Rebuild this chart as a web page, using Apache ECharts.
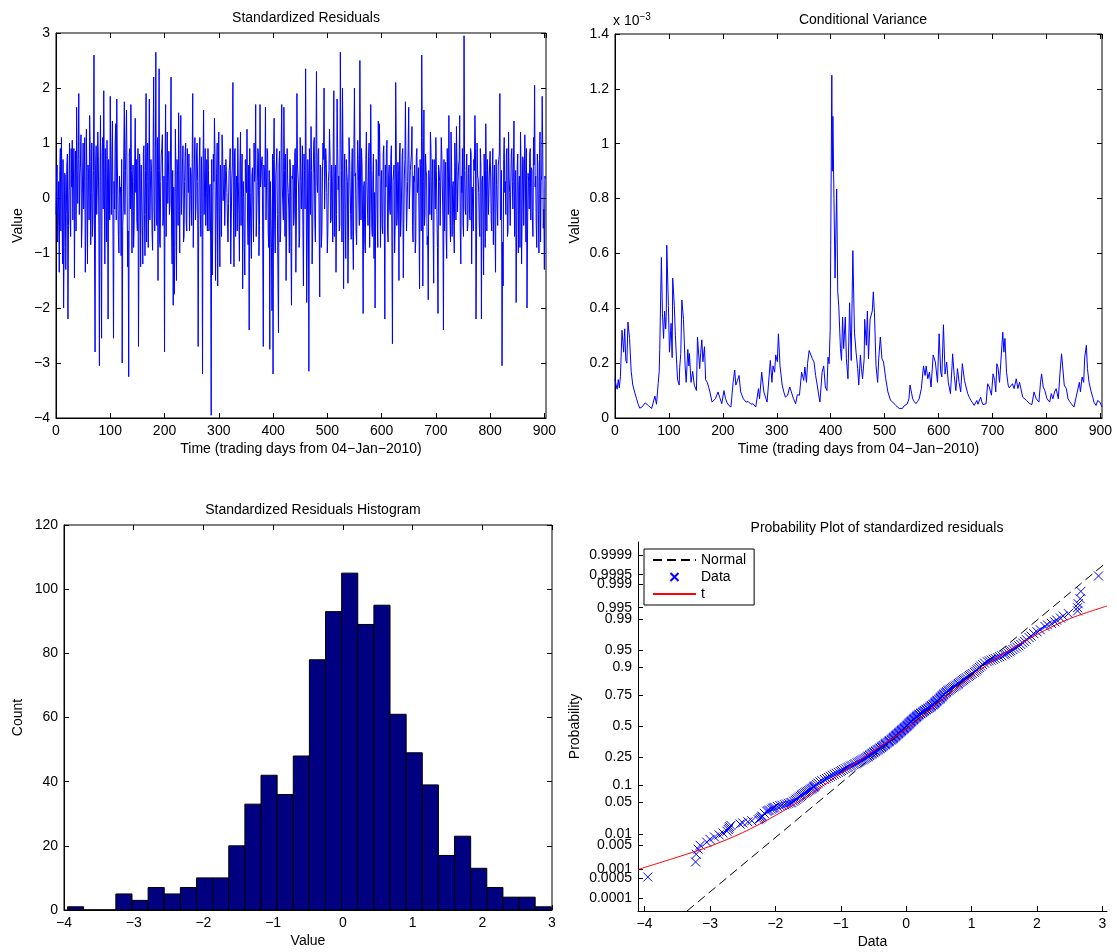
<!DOCTYPE html>
<html>
<head>
<meta charset="utf-8">
<script src="https://cdn.jsdelivr.net/npm/echarts@6/dist/echarts.min.js"></script>
<style>
html, body { margin: 0; padding: 0; background: #fff; }
#chart { width: 1117px; height: 952px; }
</style>
</head>
<body>
<div id="chart"></div>
<script>
// standardized residuals on even trading days (day = 2 * index)
var residualsEven = [
    -0.3, 0.6, -0.4, -1.35, 0.9, 1.1, -1.2, -2.0, 0.45, -1.3,
    0.6, -2.2, 0.35, -0.4, 0.9, 1.05, 0.2, -1.45, 0.85, 1.65,
    -0.1, 1.9, 0.4, 1.15, -0.45, 1.0, 0.3, -1.35, 1.25, -1.2,
    0.45, 1.5, -0.85, 1.0, -0.4, 2.6, -2.8, 0.95, 0.2, 0.75,
    -3.05, 1.5, -2.55, 1.1, 1.95, -1.2, 0.15, 1.05, -2.2, 0.4,
    1.85, -0.3, 1.4, -2.55, -0.2, 1.35, 1.8, 0.0, -1.0, 0.1,
    -1.05, -3.0, -0.2, 1.75, 0.5, 1.6, -1.25, -3.25, 0.9, 1.7,
    -1.0, 0.6, -0.5, 1.45, 0.7, -0.6, -2.7, 0.8, -1.25, 0.0,
    -1.2, 0.95, -1.05, 1.9, 0.6, -0.9, 1.8, 0.2, 0.5, -0.95,
    2.2, -0.6, 2.65, -0.5, -1.5, 2.35, -0.9, 0.8, 1.15, -0.35,
    -2.8, 1.7, 0.3, -0.1, 0.85, -0.15, 2.2, -1.2, -1.95, -1.75,
    1.25, -1.5, 0.5, 1.55, -1.0, 1.5, 0.1, 0.95, -0.7, 0.85,
    -0.45, 0.9, 0.1, -0.6, 0.55, -0.5, 1.9, 0.2, 1.1, -0.15,
    1.0, -2.7, 0.6, -0.3, 0.75, -3.2, 1.6, 0.4, -0.5, 0.7,
    0.9, -0.6, 0.25, -3.95, -1.4, 0.8, 1.45, -1.5, 0.45, -1.6,
    1.2, -1.25, 0.3, 1.15, -0.05, 0.6, -0.5, 0.5, -0.4, -0.1,
    0.6, -1.2, 0.35, 2.1, -1.25, 0.9, 0.1, -0.6, 0.3, -1.15,
    1.2, 0.4, -1.65, 0.0, -1.4, 0.2, 1.25, -0.85, -2.4, 0.1,
    -1.1, 0.55, -0.8, 0.3, 1.7, -0.25, 0.9, -1.05, 1.7, 0.4,
    0.75, -2.7, 0.5, 1.65, -0.4, 0.8, -0.9, -2.75, 0.3, -2.05,
    -3.2, 1.45, -1.0, 0.6, -0.3, -2.45, 0.85, -0.6, 1.7, 0.2,
    1.65, -0.7, -1.5, 0.9, 0.1, -1.0, 0.55, -1.95, 0.35, -0.5,
    0.8, -1.35, 1.9, 0.6, -0.9, 1.1, -0.2, 0.95, -1.6, 0.5,
    2.35, -1.9, 0.7, -3.15, 0.35, 1.3, -1.2, 0.45, 1.1, -0.8,
    2.3, 0.1, 0.9, -1.8, 0.55, -0.6, 1.0, 2.0, -0.2, 0.7,
    -1.0, 0.3, 1.25, -0.45, 0.6, -0.8, 1.95, 0.4, -1.35, 1.8,
    0.15, -0.6, 2.65, 0.5, 2.0, -1.65, 0.8, -1.1, 0.45, -1.55,
    1.1, 0.2, -0.75, 0.9, -1.3, 2.0, 0.45, -0.85, 1.05, 0.0,
    2.5, -0.4, 0.6, -2.1, 0.3, -1.0, 1.2, -0.2, 0.75, -0.9,
    1.7, -0.55, 0.4, -1.1, -2.0, 0.7, -0.3, 1.4, 1.35, -0.9,
    0.5, -0.65, 0.95, -2.2, 0.2, 1.05, -0.8, 0.6, -0.3, 0.95,
    -2.65, 0.3, -1.0, 2.1, -0.5, 0.65, -1.5, 1.0, -0.4, 0.8,
    -1.45, 0.4, 1.75, -0.6, 0.3, 1.65, -0.2, 0.5, 1.3, -0.8,
    0.3, -1.0, 0.75, 0.1, 0.55, -1.65, 0.4, 2.6, -1.6, 1.6,
    -0.3, 0.5, -0.85, -1.85, 0.3, 1.2, -0.4, 0.7, -1.55, 0.2,
    1.1, -0.3, -2.1, 0.5, -0.5, 1.1, 0.2, -2.4, -0.6, 0.65,
    -1.1, 0.4, 1.5, -0.3, 1.2, -0.7, 0.3, -1.0, 0.55, 1.3,
    -0.25, 0.6, 1.5, -1.2, 0.1, -0.45, 2.95, -0.2, 0.5, -0.6,
    0.45, -0.3, 0.9, -1.2, 0.2, 0.7, 1.5, -2.2, 1.0, 0.35,
    -0.5, 0.9, -2.2, 0.4, -1.4, 0.2, 1.35, -0.6, 0.3, -0.3,
    0.85, -0.4, 0.5, -0.85, 0.6, -1.35, 0.25, -0.5, 0.7, 1.9,
    -0.3, -3.05, -1.6, 1.1, 0.3, 0.8, -0.7, 1.2, 0.1, -0.5,
    0.9, -0.2, 1.4, 0.3, -1.9, 0.6, -1.0, 0.4, 1.2, -1.2,
    0.75, -0.5, 1.15, -0.8, -2.0, 0.45, -0.2, 0.9, 0.55, -0.4,
    1.1, 2.05, 0.4, -0.9, 0.6, -1.0, 1.2, 0.3, 1.85, -0.55, -1.3, 0.35
];
// standardized residuals on odd trading days (day = 2 * index + 1)
var residualsOdd = [
    0.2, -0.8, 0.3, 0.5, -0.6, 0.1, 0.7, -0.9, 0.4, -0.3,
    0.8, -0.5, 1.0, -0.7, 0.2, -0.4, 0.9, 0.3, -0.6, 0.5,
    0.7, -0.3, 0.6, -0.9, 0.4, -0.2, 1.1, -0.5, 0.3, 0.6,
    -0.4, 0.9, 0.1, -0.7, 0.5, -1.0, 0.6, -0.3, 1.2, -0.5,
    0.3, -0.6, 0.8, -0.2, 0.4, 0.9, -0.8, 0.2, 0.7, -0.4,
    0.5, 0.8, -0.6, 0.3, 1.0, -0.4, 0.6, -0.7, 0.4, 0.2,
    0.7, -0.5, 0.9, -0.3, 1.1, 0.2, -0.6, 0.8, -0.2, 0.5,
    0.3, -0.9, 0.6, 0.1, -0.4, 0.9, -0.7, 0.4, 0.6, -0.5,
    0.8, -0.3, 0.5, -0.8, 1.0, 0.3, -0.4, 0.7, -0.6, 0.9,
    -0.2, 0.6, -0.4, 1.1, 0.5, -0.8, 0.3, 0.9, -0.5, 0.4,
    0.6, -0.7, 1.2, 0.4, -0.3, 0.8, -0.6, 0.5, 0.2, -0.9,
    0.4, 0.7, -0.5, 0.2, 0.9, -0.3, 0.6, -0.8, 0.3, 1.0,
    -0.6, 0.5, 0.8, -0.2, 0.4, 0.7, -0.9, 0.6, -0.4, 0.8,
    0.3, -0.5, 1.1, -0.7, 0.2, 0.6, -0.3, 0.9, 0.1, -0.6,
    0.5, 0.2, -0.8, 0.7, -0.4, 0.3, 0.8, -0.5, 1.0, 0.4,
    -0.3, 0.6, -0.7, 0.9, 0.2, -0.5, 0.7, 0.1, -0.8, 0.5,
    0.9, -0.4, 0.6, -0.2, 0.8, -0.7, 0.4, 1.1, -0.3, 0.6,
    -0.5, 0.8, 0.3, -0.9, 0.7, 0.1, -0.4, 0.6, 0.9, -0.6,
    0.4, -0.2, 1.0, 0.5, -0.7, 0.3, 0.8, -0.5, 0.2, 0.7,
    -0.8, 0.6, 0.2, -0.4, 0.9, -0.6, 0.5, 0.3, -0.9, 0.8,
    0.7, -0.5, 0.4, 0.9, -0.3, 0.6, -0.8, 1.0, 0.2, -0.4,
    0.5, 0.8, -0.6, 0.3, -0.2, 0.7, -0.9, 0.4, 0.6, -0.3,
    0.9, -0.4, 0.6, 0.2, -0.7, 1.1, 0.3, -0.5, 0.8, -0.2,
    0.6, -0.8, 0.4, 0.9, -0.3, 0.5, -0.6, 1.0, -0.4, 0.7,
    0.3, 0.8, -0.5, 0.6, -0.9, 0.4, 0.7, -0.2, 0.9, 0.1,
    -0.6, 0.5, 0.8, -0.4, 0.3, 1.0, -0.7, 0.6, -0.3, 0.9,
    0.4, -0.5, 1.2, -0.8, 0.6, 0.2, -0.4, 0.7, 0.3, -0.6,
    0.8, -0.3, 0.5, -0.7, 0.9, 0.4, -0.6, 0.3, 0.7, -0.5,
    0.6, 0.9, -0.4, 0.2, -0.8, 0.7, 0.3, -0.5, 1.0, -0.2,
    0.5, -0.7, 0.8, 0.1, -0.4, 0.6, -0.9, 0.4, 0.7, 0.2,
    -0.5, 0.8, -0.3, 0.6, 0.9, -0.6, 0.4, -0.2, 0.7, -0.8,
    0.3, 0.6, -0.5, 1.0, -0.3, 0.5, 0.8, -0.7, 0.2, 0.9,
    -0.4, 0.7, 0.3, -0.6, 0.9, -0.2, 0.5, 0.8, -0.5, 0.4,
    0.6, -0.8, 0.9, 0.2, -0.4, 0.7, -0.6, 1.1, 0.3, -0.5,
    0.8, 0.4, -0.7, 0.5, -0.3, 0.9, 0.1, -0.6, 0.7, -0.2,
    0.5, -0.9, 0.6, 0.3, -0.5, 0.8, -0.4, 0.7, 0.2, -0.7,
    0.9, -0.3, 0.4, -0.8, 0.6, 0.2, -0.5, 1.0, -0.4, 0.5,
    0.3, 0.7, -0.6, 0.4, 0.9, -0.7, 0.5, -0.3, 0.8, -0.5,
    0.6, -0.4, 0.8, 0.2, -0.6, 0.5, 0.9, -0.8, 0.4, 0.1,
    -0.7, 0.6, 0.3, -0.4, 0.8, -0.9, 0.5, 0.7, -0.3, 0.6,
    0.4, -0.6, 0.9, 0.3, -0.5, 0.7, -0.2, 0.6, 0.8, -0.4,
    0.5, -0.8, 0.7, 0.1, -0.3, 0.9, -0.6, 0.4, -0.5, 0.8,
    0.3, 0.6, -0.7, 0.5, -0.4, 0.8, 0.2, -0.9, 0.6, -0.3,
    0.7, -0.5, 0.4, 0.9, -0.6, 0.3, 0.8, -0.4, 0.5, -0.7,
    0.6, 0.2, -0.5, 0.8, -0.3, 0.7, -0.8, 0.4, 0.9, -0.2,
    0.4
];

// conditional variance [day, value in units of 1e-3]
var condVar = [
    [0,0.14],[2,0.12],[4,0.105],[6,0.14],[8,0.11],[10,0.15],[13,0.32],[16,0.24],[18,0.325],[20,0.21],
    [22,0.2],[24,0.35],[27,0.29],[30,0.17],[33,0.12],[35,0.125],[37,0.09],[40,0.07],[43,0.05],[46,0.036],
    [50,0.04],[53,0.046],[56,0.055],[59,0.05],[62,0.045],[65,0.04],[68,0.035],[71,0.028],[74,0.08],[77,0.05],
    [80,0.125],[82,0.17],[83,0.25],[86,0.585],[88,0.38],[90,0.29],[92,0.39],[94,0.325],[95,0.37],[96,0.63],
    [99,0.41],[101,0.24],[104,0.345],[106,0.22],[107,0.51],[110,0.41],[112,0.3],[114,0.215],[116,0.14],[119,0.12],
    [120,0.185],[121,0.18],[122,0.235],[124,0.43],[127,0.36],[130,0.19],[132,0.13],[135,0.25],[137,0.19],[138,0.235],
    [141,0.13],[144,0.17],[147,0.12],[151,0.1],[153,0.295],[155,0.29],[157,0.18],[159,0.24],[161,0.285],[163,0.205],
    [166,0.26],[168,0.14],[171,0.13],[174,0.11],[176,0.095],[180,0.058],[183,0.065],[186,0.07],[189,0.075],[191,0.095],
    [194,0.076],[198,0.052],[202,0.1],[205,0.07],[208,0.055],[211,0.046],[215,0.04],[219,0.13],[222,0.175],[224,0.12],
    [227,0.137],[230,0.155],[233,0.095],[238,0.07],[243,0.058],[247,0.06],[252,0.05],[256,0.052],[261,0.04],[264,0.034],
    [266,0.107],[268,0.07],[272,0.167],[276,0.095],[280,0.07],[282,0.058],[285,0.052],[288,0.21],[291,0.13],[293,0.19],
    [296,0.167],[298,0.23],[301,0.205],[303,0.307],[306,0.19],[310,0.12],[313,0.095],[316,0.076],[320,0.083],[324,0.113],
    [327,0.095],[331,0.07],[335,0.052],[338,0.085],[342,0.083],[346,0.167],[350,0.137],[352,0.186],[355,0.13],[357,0.198],
    [360,0.246],[363,0.253],[366,0.216],[369,0.204],[372,0.155],[375,0.12],[378,0.08],[380,0.058],[384,0.167],[387,0.19],
    [390,0.113],[393,0.1],[395,0.222],[397,0.198],[399,0.32],[400,0.63],[402,1.25],[403,0.9],[404,1.1],[406,0.8],
    [408,0.51],[411,0.835],[413,0.46],[415,0.405],[418,0.253],[420,0.21],[422,0.368],[424,0.253],[427,0.368],[429,0.216],
    [432,0.143],[435,0.42],[438,0.21],[441,0.61],[444,0.313],[447,0.24],[450,0.18],[452,0.12],[455,0.23],[457,0.18],
    [459,0.143],[462,0.216],[463,0.36],[466,0.265],[468,0.39],[470,0.216],[473,0.36],[477,0.39],[479,0.46],[481,0.386],
    [484,0.19],[487,0.13],[489,0.216],[492,0.295],[495,0.216],[498,0.204],[502,0.143],[506,0.095],[511,0.064],[515,0.058],
    [518,0.052],[521,0.045],[524,0.04],[527,0.035],[530,0.028],[533,0.035],[536,0.044],[539,0.05],[542,0.052],[545,0.07],
    [547,0.12],[550,0.09],[552,0.07],[555,0.06],[558,0.052],[561,0.06],[564,0.07],[568,0.107],[572,0.19],[575,0.155],
    [577,0.19],[580,0.143],[583,0.167],[586,0.113],[590,0.23],[594,0.204],[598,0.13],[601,0.307],[604,0.167],[606,0.15],
    [609,0.34],[612,0.16],[615,0.204],[618,0.13],[622,0.089],[625,0.19],[626,0.234],[629,0.155],[632,0.1],[635,0.18],
    [638,0.13],[641,0.095],[644,0.198],[648,0.137],[651,0.143],[654,0.089],[657,0.075],[660,0.064],[663,0.055],[666,0.046],
    [669,0.05],[671,0.064],[673,0.05],[675,0.052],[678,0.076],[680,0.06],[682,0.049],[685,0.05],[688,0.052],[691,0.125],
    [694,0.113],[698,0.083],[701,0.161],[704,0.137],[706,0.095],[708,0.198],[710,0.186],[713,0.13],[716,0.125],[719,0.313],
    [721,0.24],[723,0.29],[726,0.167],[729,0.12],[731,0.11],[734,0.107],[737,0.125],[740,0.107],[744,0.143],[747,0.107],
    [750,0.13],[753,0.137],[756,0.076],[759,0.07],[763,0.064],[766,0.058],[769,0.052],[773,0.049],[777,0.095],[781,0.07],
    [786,0.058],[789,0.13],[791,0.161],[794,0.113],[797,0.1],[801,0.07],[806,0.058],[809,0.089],[812,0.07],[815,0.095],
    [818,0.107],[822,0.07],[825,0.161],[828,0.234],[830,0.19],[833,0.12],[837,0.107],[840,0.07],[843,0.06],[846,0.052],
    [851,0.04],[855,0.076],[858,0.083],[861,0.13],[863,0.095],[866,0.149],[869,0.13],[871,0.222],[874,0.265],[876,0.18],
    [879,0.13],[883,0.095],[886,0.075],[888,0.058],[892,0.046],[895,0.064],[899,0.058],[903,0.04]
];

// histogram: 30 equal bins between histStart and histEnd
var histCounts = [1, 0, 0, 5, 3, 7, 5, 7, 10, 10, 20, 33, 42, 36, 48, 78, 93, 105, 89, 95, 61, 49, 39, 17, 23, 13, 7, 4, 4, 1];
var histStart = -3.95;
var histEnd = 2.99;

// probability plot points [data value, probability]: tails and main run
var qqData = [
    [-3.95,0.00055],[-3.22,0.00166],[-3.21,0.0028],[-3.18,0.0039],[-3.15,0.005],[-3.05,0.0061],[-3.0,0.0072],[-2.93,0.0083],
    [-2.86,0.0094],[-2.8,0.0105],[-2.74,0.0116],[-2.72,0.0127],[-2.71,0.0138],[-2.7,0.0149],[-2.68,0.016],[-2.54,0.0172],
    [-2.5,0.0183],[-2.42,0.0194],[-2.36,0.0205],[-2.26,0.0216],[-2.24,0.0227],[-2.22,0.0238],[-2.21,0.0249],[-2.2,0.026],
    [-2.17,0.03],[-2.13,0.033],[-2.09,0.035],[-2.04,0.038],[-2.01,0.04],[-1.93,0.043],[-1.86,0.045],[-1.8,0.048],
    [-1.75,0.05],[-1.7,0.055],[-1.66,0.06],[-1.62,0.065],[-1.59,0.07],[-1.55,0.075],[-1.51,0.08],[-1.47,0.085],
    [-1.44,0.09],[-1.41,0.095],[-1.39,0.1],[-1.35,0.11],[-1.29,0.12],[-1.22,0.13],[-1.16,0.14],[-1.1,0.15],
    [-1.04,0.16],[-0.99,0.17],[-0.93,0.18],[-0.88,0.19],[-0.83,0.2],[-0.78,0.21],[-0.73,0.22],[-0.69,0.23],
    [-0.65,0.24],[-0.61,0.25],[-0.58,0.26],[-0.55,0.27],[-0.52,0.28],[-0.49,0.29],[-0.46,0.3],[-0.43,0.31],
    [-0.4,0.32],[-0.37,0.33],[-0.35,0.34],[-0.32,0.35],[-0.3,0.36],[-0.27,0.37],[-0.25,0.38],[-0.22,0.39],
    [-0.2,0.4],[-0.18,0.41],[-0.16,0.42],[-0.14,0.43],[-0.12,0.44],[-0.1,0.45],[-0.08,0.46],[-0.06,0.47],
    [-0.04,0.48],[-0.02,0.49],[0.0,0.5],[0.02,0.51],[0.04,0.52],[0.05,0.53],[0.07,0.54],[0.09,0.55],
    [0.11,0.56],[0.13,0.57],[0.15,0.58],[0.17,0.59],[0.19,0.6],[0.22,0.61],[0.25,0.62],[0.27,0.63],
    [0.3,0.64],[0.33,0.65],[0.36,0.66],[0.38,0.67],[0.41,0.68],[0.43,0.69],[0.45,0.7],[0.47,0.71],
    [0.5,0.72],[0.52,0.73],[0.54,0.74],[0.56,0.75],[0.58,0.76],[0.61,0.77],[0.64,0.78],[0.67,0.79],
    [0.71,0.8],[0.75,0.81],[0.79,0.82],[0.82,0.83],[0.86,0.84],[0.9,0.85],[0.95,0.86],[0.99,0.87],
    [1.04,0.88],[1.08,0.89],[1.12,0.9],[1.17,0.91],[1.24,0.92],[1.3,0.925],[1.36,0.93],[1.43,0.935],
    [1.5,0.94],[1.55,0.945],[1.6,0.95],[1.66,0.955],[1.72,0.96],[1.78,0.965],[1.84,0.97],[1.88,0.973],
    [1.91,0.975],[1.95,0.978],[2.0,0.98],[2.05,0.982],[2.12,0.985],[2.16,0.9862],[2.22,0.9873],[2.27,0.9884],
    [2.3,0.9895],[2.36,0.9906],[2.4,0.9917],[2.48,0.9928],[2.62,0.9939],[2.62,0.995],[2.63,0.9961],[2.66,0.9972],
    [2.67,0.9983],[2.94,0.99945]
];
// probability plot points [data value, probability]: the dense middle band
var qqDense = [
    [-2.11,0.034],[-2.06,0.0365],[-2.03,0.039],[-1.97,0.0415],[-1.9,0.044],[-1.83,0.0465],[-1.77,0.049],[-1.72,0.0525],
    [-1.68,0.0575],[-1.64,0.0625],[-1.6,0.0675],[-1.57,0.0725],[-1.53,0.0775],[-1.49,0.0825],[-1.45,0.0875],[-1.42,0.0925],
    [-1.4,0.0975],[-1.37,0.105],[-1.32,0.115],[-1.25,0.125],[-1.19,0.135],[-1.13,0.145],[-1.07,0.155],[-1.01,0.165],
    [-0.96,0.175],[-0.9,0.185],[-0.85,0.195],[-0.8,0.205],[-0.75,0.215],[-0.71,0.225],[-0.67,0.235],[-0.63,0.245],
    [-0.59,0.255],[-0.56,0.265],[-0.53,0.275],[-0.5,0.285],[-0.47,0.295],[-0.44,0.305],[-0.41,0.315],[-0.38,0.325],
    [-0.36,0.335],[-0.33,0.345],[-0.31,0.355],[-0.28,0.365],[-0.26,0.375],[-0.23,0.385],[-0.21,0.395],[-0.19,0.405],
    [-0.17,0.415],[-0.15,0.425],[-0.13,0.435],[-0.11,0.445],[-0.09,0.455],[-0.07,0.465],[-0.05,0.475],[-0.03,0.485],
    [-0.01,0.495],[0.01,0.505],[0.03,0.515],[0.045,0.525],[0.06,0.535],[0.08,0.545],[0.1,0.555],[0.12,0.565],
    [0.14,0.575],[0.16,0.585],[0.18,0.595],[0.2,0.605],[0.23,0.615],[0.26,0.625],[0.28,0.635],[0.31,0.645],
    [0.34,0.655],[0.37,0.665],[0.39,0.675],[0.42,0.685],[0.44,0.695],[0.46,0.705],[0.48,0.715],[0.51,0.725],
    [0.53,0.735],[0.55,0.745],[0.57,0.755],[0.6,0.765],[0.62,0.775],[0.65,0.785],[0.69,0.795],[0.73,0.805],
    [0.77,0.815],[0.8,0.825],[0.84,0.835],[0.88,0.845],[0.92,0.855],[0.97,0.865],[1.01,0.875],[1.06,0.885],
    [1.1,0.895],[1.14,0.905],[1.2,0.915],[1.27,0.9225],[1.33,0.9275],[1.4,0.9325],[1.46,0.9375],[1.52,0.9425],
    [1.58,0.9475],[1.63,0.9525],[1.69,0.9575],[1.75,0.9625],[1.81,0.9675]
];
var normalLine = [[-3.35, 0.0000317], [3.07, 0.99982]];
var tLine = [
    [-4.1,0.00097],[-3.5,0.0023],[-3.0,0.0047],[-2.5,0.0107],[-2.0,0.0268],[-1.5,0.0668],[-1.0,0.154],[-0.5,0.3],
    [0,0.476],[0.5,0.7],[1.0,0.862],[1.5,0.944],[2.0,0.977],[2.5,0.9903],[3.07,0.9955]
];
var probTicks = [0.0001, 0.0005, 0.001, 0.005, 0.01, 0.05, 0.1, 0.25, 0.5, 0.75, 0.9, 0.95, 0.99, 0.995, 0.999, 0.9995, 0.9999];
var dataTicks = [-4, -3, -2, -1, 0, 1, 2, 3];

// inverse normal cdf, used for the probability scale
function norminv(p) {
    var a = [-39.69683028665376, 220.9460984245205, -275.9285104469687, 138.3577518672690, -30.66479806614716, 2.506628277459239];
    var b = [-54.47609879822406, 161.5858368580409, -155.6989798598866, 66.80131188771972, -13.28068155288572];
    var c = [-0.007784894002430293, -0.3223964580411365, -2.400758277161838, -2.549732539343734, 4.374664141464968, 2.938163982698783];
    var d = [0.007784695709041462, 0.3224671290700398, 2.445134137142996, 3.754408661907416];
    var q, r;
    if (p < 0.02425) {
        q = Math.sqrt(-2 * Math.log(p));
        return (((((c[0]*q+c[1])*q+c[2])*q+c[3])*q+c[4])*q+c[5]) / ((((d[0]*q+d[1])*q+d[2])*q+d[3])*q+1);
    }
    if (p > 1 - 0.02425) {
        q = Math.sqrt(-2 * Math.log(1 - p));
        return -(((((c[0]*q+c[1])*q+c[2])*q+c[3])*q+c[4])*q+c[5]) / ((((d[0]*q+d[1])*q+d[2])*q+d[3])*q+1);
    }
    q = p - 0.5; r = q * q;
    return (((((a[0]*r+a[1])*r+a[2])*r+a[3])*r+a[4])*r+a[5])*q / (((((b[0]*r+b[1])*r+b[2])*r+b[3])*r+b[4])*r+1);
}
function toProbScale(pts) {
    return pts.map(function (d) { return [d[0], norminv(d[1])]; });
}

var font = '"Liberation Sans", Arial, Helvetica, sans-serif';
var black = '#000';
function minus(v) { return String(v).replace('-', '\u2212'); }

function axis(o) {
    return {
        type: 'value',
        gridIndex: o.grid,
        position: o.pos,
        min: o.min,
        max: o.max,
        interval: o.interval,
        axisLine: { show: o.line !== false, onZero: false, lineStyle: { color: black, width: 1 } },
        axisTick: { show: true, inside: true, length: 5, lineStyle: { color: black }, customValues: o.ticks },
        axisLabel: { show: o.labels !== false, color: black, fontSize: 14, fontFamily: font, margin: 6,
                     formatter: o.formatter || minus, customValues: o.ticks },
        splitLine: { show: false },
        name: o.name || '',
        nameLocation: 'middle',
        nameGap: o.gap || 0,
        nameTextStyle: { color: black, fontSize: 14, fontFamily: font }
    };
}

var residualPoints = [];
residualsEven.forEach(function (v, i) {
    residualPoints.push([2 * i, v]);
    if (i < residualsOdd.length) residualPoints.push([2 * i + 1, residualsOdd[i]]);
});
var binWidth = (histEnd - histStart) / histCounts.length;
var histData = histCounts.map(function (c, i) {
    return [histStart + i * binWidth, histStart + (i + 1) * binWidth, c];
});
var probTickZ = probTicks.map(norminv);
function probLabel(v) {
    for (var i = 0; i < probTickZ.length; i++) {
        if (Math.abs(probTickZ[i] - v) < 1e-6) return String(probTicks[i]);
    }
    return '';
}
var timeName = 'Time (trading days from 04\u2212Jan\u22122010)';
var titleStyle = { color: black, fontSize: 14, fontWeight: 'normal', fontFamily: font };
var xMark = 'path://M0,0L10,10M10,0L0,10';

var chart = echarts.init(document.getElementById('chart'));
var option = {
    animation: false,
    backgroundColor: '#fff',
    textStyle: { fontFamily: font },
    title: [
        { text: 'Standardized Residuals', left: 301, top: 6, textAlign: 'center', textStyle: titleStyle },
        { text: 'Conditional Variance', left: 858, top: 8, textAlign: 'center', textStyle: titleStyle },
        { text: 'Standardized Residuals Histogram', left: 308, top: 498, textAlign: 'center', textStyle: titleStyle },
        { text: 'Probability Plot of standardized residuals', left: 872, top: 516, textAlign: 'center', textStyle: titleStyle },
        { text: '{a|x 10}{b|\u22123}', left: 613, top: 12, padding: 0,
          textStyle: { fontWeight: 'normal', rich: {
              a: { fontSize: 14, color: black, fontFamily: font, fontWeight: 'normal', lineHeight: 18 },
              b: { fontSize: 10, color: black, fontFamily: font, fontWeight: 'normal', verticalAlign: 'top', lineHeight: 10 }
          } } }
    ],
    legend: {
        orient: 'vertical',
        left: 644,
        top: 549,
        itemWidth: 43,
        itemHeight: 8,
        itemGap: 3,
        padding: [4, 8, 4, 8],
        borderColor: black,
        borderWidth: 1,
        backgroundColor: '#fff',
        textStyle: { color: black, fontSize: 14, fontFamily: font },
        data: [
            { name: 'Normal', itemStyle: { opacity: 0 } },
            { name: 'Data' },
            { name: 't', itemStyle: { opacity: 0 } }
        ]
    },
    grid: [
        { left: 56, top: 33, width: 490, height: 385, show: true, borderColor: black, borderWidth: 1 },
        { left: 615, top: 34, width: 487, height: 384, show: true, borderColor: black, borderWidth: 1 },
        { left: 64, top: 525, width: 488, height: 385, show: true, borderColor: black, borderWidth: 1 },
        { left: 638, top: 542, width: 469, height: 369 }
    ],
    xAxis: [
        axis({ grid: 0, pos: 'bottom', min: 0, max: 903, interval: 100, name: timeName, gap: 24 }),
        axis({ grid: 1, pos: 'bottom', min: 0, max: 903, interval: 100, name: timeName, gap: 24 }),
        axis({ grid: 2, pos: 'bottom', min: -4, max: 3, interval: 1, name: 'Value', gap: 24 }),
        axis({ grid: 3, pos: 'bottom', min: -4.1, max: 3.07, ticks: dataTicks, name: 'Data', gap: 24 }),
        axis({ grid: 0, pos: 'top', min: 0, max: 903, interval: 100, labels: false, line: false }),
        axis({ grid: 1, pos: 'top', min: 0, max: 903, interval: 100, labels: false, line: false }),
        axis({ grid: 2, pos: 'top', min: -4, max: 3, interval: 1, labels: false, line: false })
    ],
    yAxis: [
        axis({ grid: 0, pos: 'left', min: -4, max: 3, interval: 1, name: 'Value', gap: 31 }),
        axis({ grid: 1, pos: 'left', min: 0, max: 1.4, interval: 0.2, name: 'Value', gap: 33 }),
        axis({ grid: 2, pos: 'left', min: 0, max: 120, interval: 20, name: 'Count', gap: 39 }),
        axis({ grid: 3, pos: 'left', min: -4, max: 4, ticks: probTickZ, formatter: probLabel, name: 'Probability', gap: 56 }),
        axis({ grid: 0, pos: 'right', min: -4, max: 3, interval: 1, labels: false, line: false }),
        axis({ grid: 1, pos: 'right', min: 0, max: 1.4, interval: 0.2, labels: false, line: false }),
        axis({ grid: 2, pos: 'right', min: 0, max: 120, interval: 20, labels: false, line: false })
    ],
    series: [
        {
            name: 'Residuals', type: 'line', xAxisIndex: 0, yAxisIndex: 0,
            data: residualPoints, symbol: 'none', sampling: false,
            lineStyle: { color: '#0000ff', width: 1 }
        },
        {
            name: 'Variance', type: 'line', xAxisIndex: 1, yAxisIndex: 1,
            data: condVar, symbol: 'none',
            lineStyle: { color: '#0000ff', width: 1 }
        },
        {
            name: 'Histogram', type: 'custom', xAxisIndex: 2, yAxisIndex: 2,
            data: histData,
            encode: { x: [0, 1], y: 2 },
            renderItem: function (params, api) {
                var topLeft = api.coord([api.value(0), api.value(2)]);
                var bottomRight = api.coord([api.value(1), 0]);
                return {
                    type: 'rect',
                    shape: { x: topLeft[0], y: topLeft[1], width: bottomRight[0] - topLeft[0], height: bottomRight[1] - topLeft[1] },
                    style: { fill: '#000080', stroke: black, lineWidth: 1 }
                };
            }
        },
        {
            name: 'Normal', type: 'line', xAxisIndex: 3, yAxisIndex: 3,
            data: toProbScale(normalLine), symbol: 'none',
            lineStyle: { color: black, width: 1, type: [9, 5] },
            itemStyle: { color: black }
        },
        {
            name: 'Data', type: 'scatter', xAxisIndex: 3, yAxisIndex: 3,
            data: toProbScale(qqData.concat(qqDense)), symbol: xMark, symbolSize: 9,
            itemStyle: { color: '#0000ff', borderColor: '#0000ff', borderWidth: 1, opacity: 1 }
        },
        {
            name: 't', type: 'line', xAxisIndex: 3, yAxisIndex: 3,
            data: toProbScale(tLine), symbol: 'none', smooth: 0.3,
            lineStyle: { color: '#ff0000', width: 1 },
            itemStyle: { color: '#ff0000' }
        }
    ]
};
chart.setOption(option);
window.onresize = function () {
    chart.resize();
};
</script>
</body>
</html>
